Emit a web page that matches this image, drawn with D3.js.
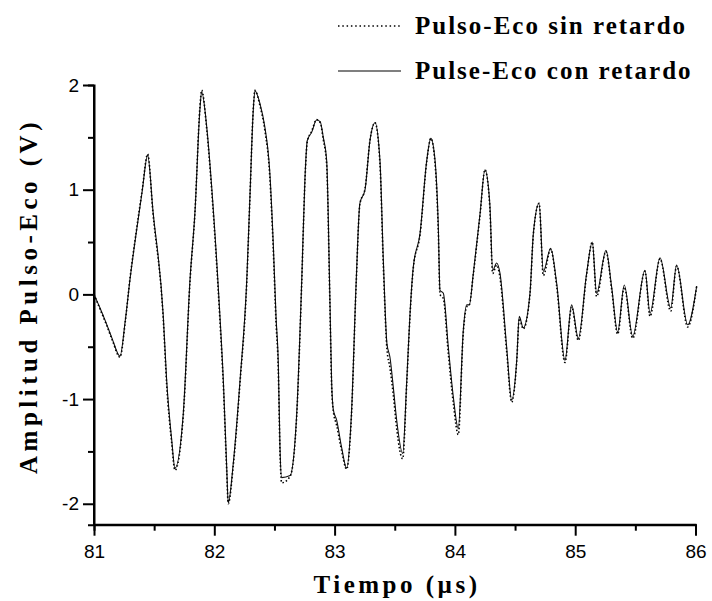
<!DOCTYPE html>
<html lang="es">
<head>
    <meta charset="utf-8">
    <title>Pulso-Eco</title>
    <script src="https://cdnjs.cloudflare.com/ajax/libs/d3/7.8.5/d3.min.js"></script>
    <style>
        body { margin: 0; background: #fff; }
        .tick text { font-family: "Liberation Sans", Arial, sans-serif; font-size: 19px; fill: #000; }
        .titulo { font-family: "Liberation Serif", "Times New Roman", serif; font-weight: bold; font-size: 25px; letter-spacing: 2px; fill: #000; }
    </style>
</head>
<body>
<svg id="chart" width="712" height="601"></svg>
<script>
    // tiempo en microsegundos
    var tiempo = [81.000, 81.050, 81.100, 81.150, 81.216, 81.260, 81.300, 81.350, 81.400, 81.446,
        81.490, 81.576, 81.604, 81.646, 81.673, 81.742, 81.798, 81.840, 81.880, 81.895,
        81.937, 81.978, 82.047, 82.075, 82.103, 82.116, 82.158, 82.214, 82.270, 82.297,
        82.324, 82.338, 82.380, 82.420, 82.460, 82.490, 82.513, 82.532, 82.546, 82.560,
        82.630, 82.685, 82.727, 82.754, 82.773, 82.810, 82.850, 82.880, 82.906, 82.934,
        82.960, 82.975, 82.990, 83.017, 83.058, 83.100, 83.140, 83.180, 83.210, 83.253,
        83.294, 83.336, 83.377, 83.405, 83.435, 83.460, 83.490, 83.516, 83.566, 83.600,
        83.627, 83.654, 83.710, 83.766, 83.800, 83.835, 83.862, 83.876, 83.904, 83.945,
        83.987, 84.028, 84.070, 84.098, 84.120, 84.153, 84.209, 84.250, 84.290, 84.314,
        84.347, 84.375, 84.430, 84.472, 84.514, 84.535, 84.568, 84.624, 84.652, 84.700,
        84.735, 84.796, 84.846, 84.915, 84.970, 85.026, 85.095, 85.142, 85.178, 85.256,
        85.303, 85.353, 85.408, 85.478, 85.580, 85.622, 85.705, 85.794, 85.843, 85.935,
        86.010];

    // Pulse-Eco con retardo (linea continua)
    var conRetardo = [0.00, -0.13, -0.27, -0.42, -0.59, -0.25, 0.15, 0.58, 0.98, 1.33,
        0.80, -0.21, -0.82, -1.39, -1.66, -1.14, 0.14, 0.80, 1.76, 1.935,
        1.60, 1.03, -0.21, -0.82, -1.65, -1.99, -1.61, -0.82, 0.14, 0.96,
        1.76, 1.945, 1.82, 1.60, 1.19, 0.49, -0.21, -0.66, -1.46, -1.75,
        -1.73, -1.14, 0.14, 1.12, 1.47, 1.55, 1.665, 1.65, 1.50, 1.28,
        0.01, -0.82, -1.105, -1.20, -1.46, -1.66, -1.14, 0.14, 0.87, 1.00,
        1.47, 1.64, 1.28, 0.33, -0.47, -0.60, -0.91, -1.20, -1.52, -0.82,
        -0.18, 0.26, 0.58, 1.28, 1.49, 1.28, 0.65, 0.04, 0.01, -0.50,
        -0.98, -1.28, -0.34, -0.10, -0.10, 0.20, 0.77, 1.19, 0.87, 0.23,
        0.30, 0.20, -0.50, -1.01, -0.63, -0.21, -0.32, 0.01, 0.58, 0.87,
        0.22, 0.44, 0.105, -0.63, -0.10, -0.42, 0.20, 0.50, 0.01, 0.42,
        0.07, -0.36, 0.09, -0.40, 0.23, -0.18, 0.35, -0.13, 0.28, -0.29,
        0.08];

    // Pulso-Eco sin retardo (linea punteada)
    var sinRetardo = [0.00, -0.14, -0.28, -0.43, -0.60, -0.26, 0.16, 0.59, 0.99, 1.34,
        0.78, -0.24, -0.86, -1.42, -1.68, -1.16, 0.12, 0.80, 1.78, 1.95,
        1.58, 1.00, -0.25, -0.86, -1.68, -2.00, -1.63, -0.84, 0.12, 0.95,
        1.77, 1.95, 1.80, 1.57, 1.15, 0.44, -0.26, -0.72, -1.50, -1.80,
        -1.74, -1.16, 0.12, 1.10, 1.46, 1.56, 1.67, 1.64, 1.48, 1.24,
        -0.04, -0.86, -1.12, -1.25, -1.49, -1.67, -1.16, 0.12, 0.86, 1.01,
        1.47, 1.64, 1.25, 0.28, -0.52, -0.70, -0.98, -1.28, -1.57, -0.84,
        -0.20, 0.25, 0.57, 1.27, 1.49, 1.25, 0.60, 0.00, -0.04, -0.56,
        -1.04, -1.34, -0.36, -0.12, -0.10, 0.19, 0.76, 1.19, 0.84, 0.20,
        0.28, 0.16, -0.54, -1.03, -0.64, -0.23, -0.33, 0.00, 0.57, 0.87,
        0.18, 0.43, 0.08, -0.65, -0.12, -0.44, 0.19, 0.50, -0.02, 0.41,
        0.05, -0.38, 0.07, -0.42, 0.22, -0.21, 0.34, -0.16, 0.27, -0.31,
        0.08];

    var xTicks = [81, 82, 83, 84, 85, 86];
    var yTicks = [-2, -1, 0, 1, 2];
    var leyenda = ["Pulso-Eco sin retardo", "Pulse-Eco con retardo"];

    var svg = d3.select("#chart");
    // ojo: "top" es una global del navegador, por eso mTop
    var mLeft = 94, mRight = 695.5, mTop = 85, mBottom = 524.7;

    var x = d3.scaleLinear().domain([81, 86]).range([mLeft, mRight]);
    var y = d3.scaleLinear().domain([-2.2, 2]).range([mBottom, mTop]);

    // con guion normal como en el original, no el signo menos de d3
    var fmt = function(d) { return String(d); };

    // ejes: marcas menores primero, luego las mayores con texto
    var xMinor = d3.axisBottom(x).tickValues(d3.range(81.5, 86, 1)).tickSize(6).tickFormat("");
    var yMinor = d3.axisLeft(y).tickValues([-1.5, -0.5, 0.5, 1.5]).tickSize(6).tickFormat("");
    var xAxis = d3.axisBottom(x).tickValues(xTicks).tickSize(11).tickPadding(9).tickFormat(fmt);
    var yAxis = d3.axisLeft(y).tickValues(yTicks).tickSize(11).tickPadding(4).tickFormat(fmt);

    svg.append("g").attr("transform", "translate(0," + mBottom + ")").call(xMinor);
    svg.append("g").attr("transform", "translate(" + mLeft + ",0)").call(yMinor);
    var gx = svg.append("g").attr("transform", "translate(0," + mBottom + ")").call(xAxis);
    var gy = svg.append("g").attr("transform", "translate(" + mLeft + ",0)").call(yAxis);

    svg.selectAll(".domain").attr("stroke", "#000").attr("stroke-width", 2);
    svg.selectAll(".tick line").attr("stroke", "#000").attr("stroke-width", 2);
    gx.selectAll(".domain").attr("d", "M" + mLeft + ",0H" + (mRight + 1));
    gy.selectAll(".domain").attr("d", "M0," + mTop + "V" + (mBottom + 1));

    var linea = d3.line()
        .x(function(d, i) { return x(tiempo[i]); })
        .y(function(d) { return y(d); })
        .curve(d3.curveMonotoneX);

    svg.append("path")
        .attr("d", linea(conRetardo))
        .attr("fill", "none")
        .attr("stroke", "#111")
        .attr("stroke-width", 1.1);

    svg.append("path")
        .attr("d", linea(sinRetardo))
        .attr("fill", "none")
        .attr("stroke", "#000")
        .attr("stroke-width", 1.6)
        .attr("stroke-dasharray", "1.5,2.2");

    // leyenda
    var ley = svg.append("g");
    leyenda.forEach(function(t, i) {
        var yy = 26 + i * 45;
        ley.append("line")
            .attr("x1", 338).attr("x2", 401)
            .attr("y1", yy).attr("y2", yy)
            .attr("stroke", "#000")
            .attr("stroke-width", i == 0 ? 1.5 : 1.1)
            .attr("stroke-dasharray", i == 0 ? "1.5,2.8" : null);
        ley.append("text")
            .attr("class", "titulo")
            .attr("x", 415).attr("y", yy + 8)
            .text(t);
    });

    // titulos de ejes
    svg.append("text")
        .attr("class", "titulo")
        .attr("x", 397).attr("y", 593)
        .attr("text-anchor", "middle")
        .style("letter-spacing", "3.5px")
        .text("Tiempo (\u00b5s)");

    svg.append("text")
        .attr("class", "titulo")
        .attr("transform", "translate(37," + 296 + ") rotate(-90)")
        .attr("text-anchor", "middle")
        .style("letter-spacing", "4.5px")
        .text("Amplitud Pulso-Eco (V)");
</script>
</body>
</html>
